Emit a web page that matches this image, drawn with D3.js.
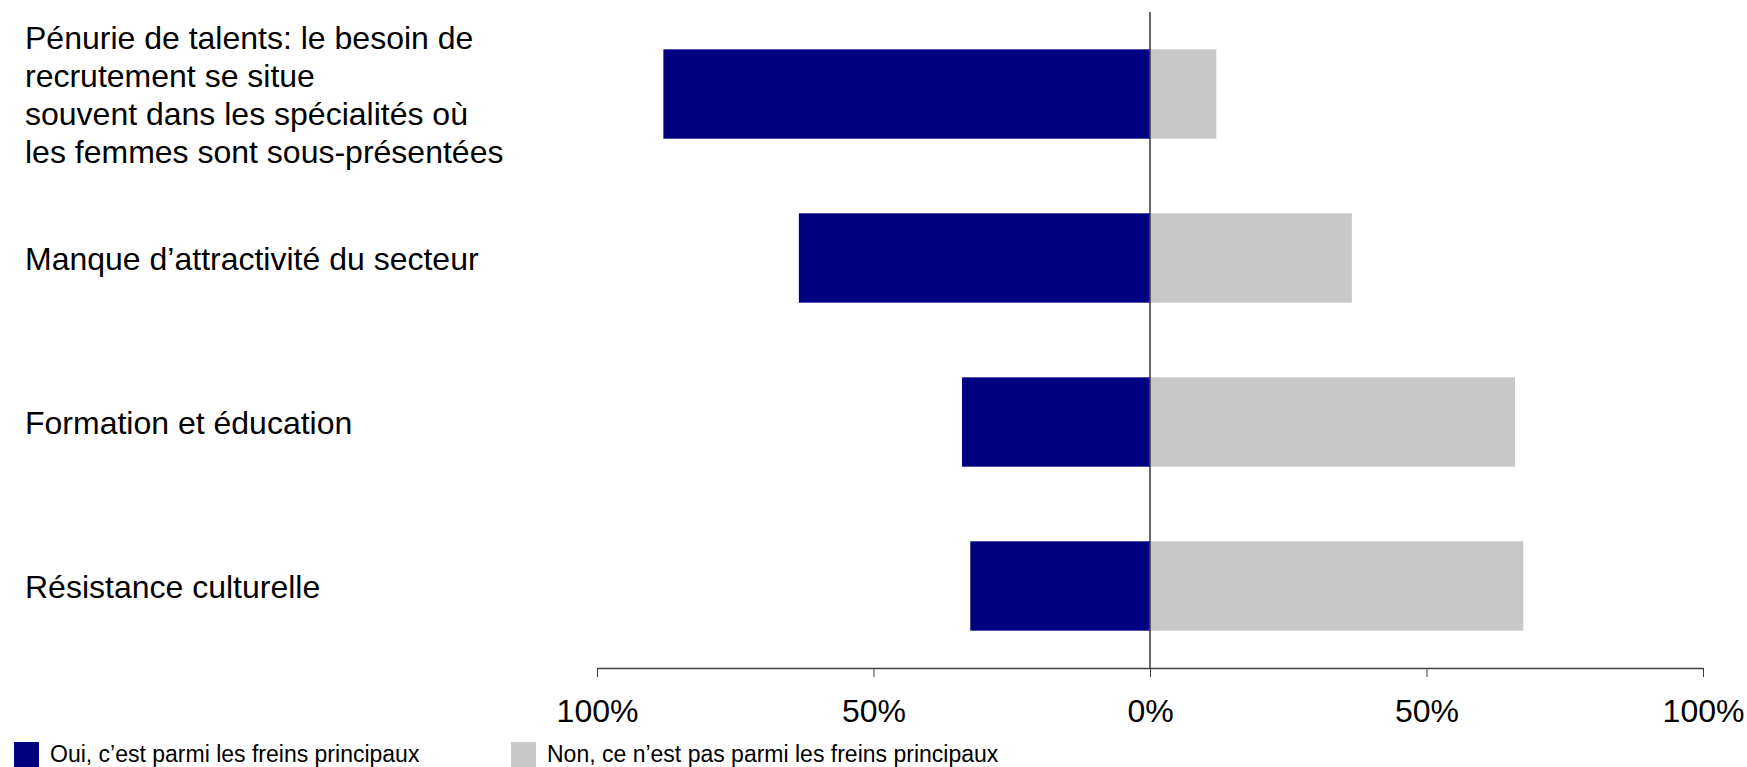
<!DOCTYPE html>
<html lang="fr">
<head>
<meta charset="utf-8">
<script src="https://cdn.jsdelivr.net/npm/d3@7"></script>
<style>
  html, body { margin: 0; padding: 0; background: #ffffff; }
  svg { display: block; font-family: "Liberation Sans", Arial, sans-serif; }
</style>
</head>
<body>
<svg id="chart" width="1747" height="767"></svg>
<script>
// Freins à la féminisation : part des répondants (%)
const categories = [
  "Pénurie de talents",
  "Manque d’attractivité du secteur",
  "Formation et éducation",
  "Résistance culturelle"
];
const categoryLines = [
  ["Pénurie de talents: le besoin de", "recrutement se situe", "souvent dans les spécialités où", "les femmes sont sous-présentées"],
  ["Manque d’attractivité du secteur"],
  ["Formation et éducation"],
  ["Résistance culturelle"]
];
const ouiValues = [88, 63.5, 34, 32.5];
const nonValues = [12, 36.5, 66, 67.5];
const tickValues = [-100, -50, 0, 50, 100];
const seriesNames = ["Oui, c’est parmi les freins principaux", "Non, ce n’est pas parmi les freins principaux"];
const seriesColors = ["#000080", "#c8c8c8"];

const svg = d3.select("#chart");

const x = d3.scaleLinear().domain([-100, 100]).range([597, 1703]);
const y = d3.scaleBand().domain(categories).range([12, 668])
  .paddingInner(0.455).paddingOuter(0.2275);

// Bars: "oui" to the left of zero, "non" to the right
const rows = categories.map((c, i) => ({ cat: c, oui: ouiValues[i], non: nonValues[i], lines: categoryLines[i] }));

svg.append("g").selectAll("rect").data(rows).join("rect")
  .attr("x", d => x(-d.oui))
  .attr("y", d => y(d.cat))
  .attr("width", d => x(0) - x(-d.oui))
  .attr("height", y.bandwidth())
  .attr("fill", seriesColors[0]);

svg.append("g").selectAll("rect").data(rows).join("rect")
  .attr("x", x(0))
  .attr("y", d => y(d.cat))
  .attr("width", d => x(d.non) - x(0))
  .attr("height", y.bandwidth())
  .attr("fill", seriesColors[1]);

// Zero line
svg.append("line")
  .attr("x1", x(0)).attr("x2", x(0))
  .attr("y1", 12).attr("y2", 668)
  .attr("stroke", "#404040").attr("stroke-width", 1.6);

// Bottom axis
const axis = d3.axisBottom(x)
  .tickValues(tickValues)
  .tickFormat(d => Math.abs(d) + "%")
  .tickSize(9)
  .tickSizeOuter(0)
  .tickPadding(22);

const gx = svg.append("g").attr("transform", "translate(0,668)").call(axis);
gx.select(".domain").attr("stroke", "#404040").attr("stroke-width", 1.6);
gx.selectAll(".tick line").attr("stroke", "#404040").attr("stroke-width", 1);
gx.selectAll(".tick text")
  .attr("fill", "#000")
  .style("font-family", "'Liberation Sans', Arial, sans-serif")
  .style("font-size", "32px");

// Category labels, vertically centred on their bar
const lineH = 37.8;
const labels = svg.append("g").selectAll("text").data(rows).join("text")
  .attr("x", 25)
  .attr("y", d => y(d.cat) + y.bandwidth() / 2)
  .attr("font-size", 32)
  .attr("fill", "#000");
labels.each(function (d) {
  const n = d.lines.length;
  d3.select(this).selectAll("tspan").data(d.lines).join("tspan")
    .attr("x", 25)
    .attr("dy", (t, i) => i === 0 ? (-(n - 1) / 2 * lineH + 12) : lineH)
    .text(t => t);
});

// Legend
const legendX = [14, 511];
const legend = svg.append("g").selectAll("g").data(seriesNames).join("g")
  .attr("transform", (d, i) => `translate(${legendX[i]},742)`);
legend.append("rect")
  .attr("width", 25).attr("height", 25)
  .attr("fill", (d, i) => seriesColors[i]);
legend.append("text")
  .attr("x", 36).attr("y", 19.5)
  .attr("font-size", 23)
  .attr("fill", "#000")
  .text(d => d);
</script>
</body>
</html>
